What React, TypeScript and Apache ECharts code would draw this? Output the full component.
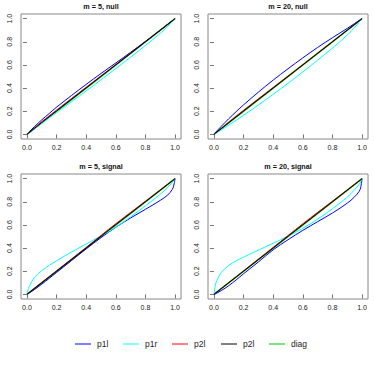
import React, { useEffect, useRef } from "react";
import * as echarts from "echarts";

const titles = ["m = 5, null", "m = 20, null", "m = 5, signal", "m = 20, signal"];
const tickValues = [0, 0.2, 0.4, 0.6, 0.8, 1.0];
const seriesNames = ["p1l", "p1r", "p2l", "p2l", "diag"];
const seriesColors = ["#0000ff", "#00ffff", "#ff0000", "#000000", "#00cd00"];

const xs = [0, 0.01, 0.02, 0.05, 0.1, 0.15, 0.2, 0.3, 0.4, 0.5, 0.6, 0.7, 0.8, 0.9, 0.95, 0.98, 0.99, 1];

// m = 5, null
const p1lA = [0, 0.015, 0.028, 0.066, 0.125, 0.18, 0.235, 0.335, 0.432, 0.526, 0.617, 0.709, 0.803, 0.899, 0.95, 0.98, 0.99, 1];
const p1rA = [0, 0.009, 0.018, 0.047, 0.095, 0.142, 0.19, 0.282, 0.375, 0.471, 0.569, 0.667, 0.768, 0.873, 0.934, 0.973, 0.987, 1];
const p2lRedA = [0, 0.011, 0.022, 0.055, 0.11, 0.16, 0.21, 0.309, 0.407, 0.505, 0.603, 0.701, 0.8, 0.9, 0.95, 0.98, 0.99, 1];
const p2lBlkA = [0, 0.01, 0.02, 0.051, 0.102, 0.152, 0.202, 0.302, 0.401, 0.501, 0.6, 0.7, 0.8, 0.9, 0.95, 0.98, 0.99, 1];

// m = 20, null
const p1lB = [0, 0.015, 0.03, 0.07, 0.135, 0.196, 0.255, 0.365, 0.469, 0.567, 0.661, 0.751, 0.835, 0.916, 0.958, 0.984, 0.992, 1];
const p1rB = [0, 0.007, 0.015, 0.038, 0.08, 0.122, 0.165, 0.254, 0.346, 0.441, 0.54, 0.641, 0.746, 0.858, 0.924, 0.968, 0.984, 1];
const p2lRedB = [0, 0.011, 0.021, 0.053, 0.107, 0.158, 0.208, 0.307, 0.405, 0.504, 0.602, 0.701, 0.8, 0.9, 0.95, 0.98, 0.99, 1];
const p2lBlkB = [0, 0.01, 0.02, 0.05, 0.101, 0.151, 0.201, 0.301, 0.4, 0.5, 0.6, 0.7, 0.8, 0.9, 0.95, 0.98, 0.99, 1];

// m = 5, signal
const p1lC = [0, 0.008, 0.016, 0.041, 0.088, 0.138, 0.189, 0.291, 0.393, 0.49, 0.58, 0.66, 0.735, 0.812, 0.858, 0.905, 0.935, 1];
const p1rC = [0, 0.05, 0.08, 0.145, 0.205, 0.25, 0.29, 0.365, 0.435, 0.505, 0.58, 0.67, 0.765, 0.865, 0.925, 0.965, 0.982, 1];
const p2lRedC = [0, 0.01, 0.02, 0.052, 0.103, 0.153, 0.203, 0.304, 0.406, 0.509, 0.611, 0.708, 0.805, 0.902, 0.951, 0.98, 0.99, 1];
const p2lBlkC = [0, 0.01, 0.02, 0.05, 0.1, 0.15, 0.2, 0.3, 0.4, 0.502, 0.602, 0.701, 0.8, 0.9, 0.95, 0.98, 0.99, 1];

// m = 20, signal
const p1lD = [0, 0.005, 0.011, 0.033, 0.075, 0.125, 0.178, 0.28, 0.385, 0.472, 0.553, 0.628, 0.703, 0.788, 0.843, 0.89, 0.92, 1];
const p1rD = [0, 0.08, 0.12, 0.19, 0.25, 0.29, 0.322, 0.382, 0.442, 0.503, 0.57, 0.65, 0.74, 0.84, 0.905, 0.95, 0.972, 1];
const p2lRedD = [0, 0.01, 0.02, 0.051, 0.102, 0.152, 0.203, 0.304, 0.406, 0.508, 0.61, 0.708, 0.805, 0.902, 0.951, 0.98, 0.99, 1];
const p2lBlkD = [0, 0.01, 0.02, 0.05, 0.1, 0.15, 0.2, 0.3, 0.4, 0.501, 0.601, 0.7, 0.8, 0.9, 0.95, 0.98, 0.99, 1];

const diagX = [0, 1];
const diagY = [0, 1];

const panels = [
  [p1lA, p1rA, p2lRedA, p2lBlkA],
  [p1lB, p1rB, p2lRedB, p2lBlkB],
  [p1lC, p1rC, p2lRedC, p2lBlkC],
  [p1lD, p1rD, p2lRedD, p2lBlkD],
];

const FONT = "'Liberation Sans', Arial, Helvetica, sans-serif";

export default function App() {
  const ref = useRef<HTMLDivElement>(null);

  useEffect(() => {
    if (!ref.current) return;
    const chart = echarts.init(ref.current, null, { renderer: "svg" });

    const gridPos = [
      { left: 21, top: 14 },
      { left: 208, top: 14 },
      { left: 21, top: 174 },
      { left: 208, top: 174 },
    ];
    const W = 160;
    const H = 125;

    const grids = gridPos.map((g) => ({
      left: g.left,
      top: g.top,
      width: W,
      height: H,
      show: true,
      borderColor: "#888",
      borderWidth: 1,
      backgroundColor: "transparent",
    }));

    const axisCommon = {
      type: "value" as const,
      min: -0.04,
      max: 1.04,
      splitLine: { show: false },
      axisLine: { show: false },
    };

    const xAxes = gridPos.map((_, i) => ({
      ...axisCommon,
      gridIndex: i,
      position: "bottom",
      axisTick: { show: true, customValues: tickValues, length: 4, lineStyle: { color: "#555", width: 0.8 } },
      axisLabel: {
        customValues: tickValues,
        formatter: (v: number) => v.toFixed(1),
        fontSize: 7,
        fontFamily: FONT,
        color: "#222",
        margin: 5,
      },
    }));
    const yAxes = gridPos.map((_, i) => ({
      ...axisCommon,
      gridIndex: i,
      position: "left",
      axisTick: { show: true, customValues: tickValues, length: 4, lineStyle: { color: "#555", width: 0.8 } },
      axisLabel: {
        customValues: tickValues,
        formatter: (v: number) => v.toFixed(1),
        fontSize: 7,
        fontFamily: FONT,
        color: "#222",
        rotate: 90,
        margin: 8,
      },
    }));

    const series: any[] = [];
    panels.forEach((arrs, pi) => {
      series.push({
        type: "line",
        name: seriesNames[4],
        xAxisIndex: pi,
        yAxisIndex: pi,
        data: diagX.map((x, k) => [x, diagY[k]]),
        showSymbol: false,
        lineStyle: { color: seriesColors[4], width: 1.6 },
        z: 2,
      });
      [0, 1, 2, 3].forEach((si) => {
        series.push({
          type: "line",
          name: seriesNames[si],
          xAxisIndex: pi,
          yAxisIndex: pi,
          data: xs.map((x, k) => [x, arrs[si][k]]),
          showSymbol: false,
          smooth: 0.35,
          lineStyle: { color: seriesColors[si], width: 1 },
          z: 3 + si,
        });
      });
    });

    const titleCenters = [
      { x: 101, y: 3 },
      { x: 288, y: 3 },
      { x: 101, y: 163 },
      { x: 288, y: 163 },
    ];

    const graphics: any[] = [];
    const legendX = [75, 123, 172, 221, 269];
    legendX.forEach((lx, i) => {
      graphics.push({
        type: "line",
        shape: { x1: lx, y1: 344, x2: lx + 16, y2: 344 },
        style: { stroke: seriesColors[i], lineWidth: 1 },
      });
      graphics.push({
        type: "text",
        x: lx + 22,
        y: 344,
        style: {
          text: seriesNames[i],
          fontSize: 8.5,
          fontFamily: FONT,
          fill: "#222",
          verticalAlign: "middle",
        },
      });
    });

    chart.setOption({
      animation: false,
      backgroundColor: "#fff",
      title: titleCenters.map((t, i) => ({
        text: titles[i],
        left: t.x,
        top: t.y,
        textAlign: "center",
        textStyle: { fontSize: 7.2, fontWeight: "bold", fontFamily: FONT, color: "#111" },
        padding: 0,
      })),
      grid: grids,
      xAxis: xAxes,
      yAxis: yAxes,
      series,
      graphic: graphics,
    });

    return () => chart.dispose();
  }, []);

  return <div ref={ref} style={{ width: 374, height: 374, position: "absolute", left: 0, top: 0 }} />;
}
